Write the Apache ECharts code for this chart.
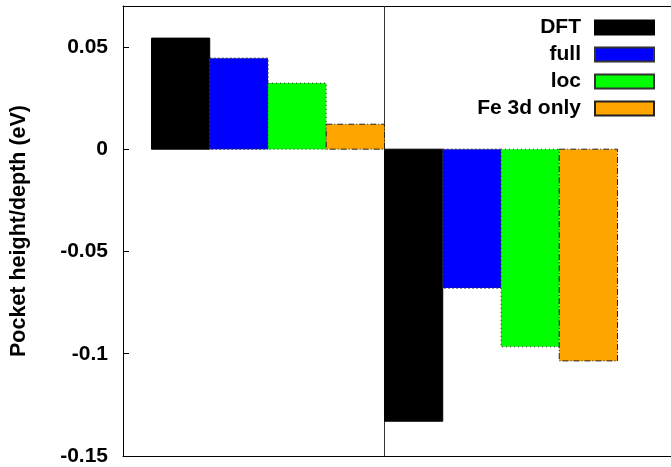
<!DOCTYPE html>
<html>
<head>
<meta charset="utf-8">
<script src="https://cdn.jsdelivr.net/npm/echarts@6/dist/echarts.min.js"></script>
<style>html,body{margin:0;padding:0;background:#fff;}#c{width:671px;height:467px;}</style>
</head>
<body>
<div id="c"></div>
<script>
const groupPositions = [0, 1];
const seriesNames = ['DFT', 'full', 'loc', 'Fe 3d only'];
const dftValues = [0.0543, -0.1330];
const fullValues = [0.0445, -0.0679];
const locValues = [0.0323, -0.0966];
const feValues = [0.0122, -0.1035];
const yTicks = [-0.15, -0.1, -0.05, 0, 0.05];
const dividerX = 0.5;

const seriesValues = [dftValues, fullValues, locValues, feValues];
const colors = ['#000000', '#0000ff', '#00ff00', '#ffa500'];
const borders = [
  {borderColor: '#000', borderType: 'solid'},
  {borderColor: '#333', borderType: [2, 2]},
  {borderColor: '#333', borderType: [1, 3]},
  {borderColor: '#222', borderType: [6, 2, 1, 2]}
];
const FONT = 'Liberation Sans, Arial, sans-serif';

const chart = echarts.init(document.getElementById('c'), null, {renderer: 'canvas'});

function makeRender(idx, count) {
  return function (params, api) {
    const x = api.value(0), y = api.value(1);
    const p0 = api.coord([x, 0]);
    const p1 = api.coord([x, y]);
    const unit = api.size([1, 0])[0];
    const w = unit / count;
    const left = p0[0] - unit / 2 + idx * w;
    return {
      type: 'rect',
      shape: {x: left, y: Math.min(p0[1], p1[1]), width: w, height: Math.abs(p1[1] - p0[1])},
      style: api.style()
    };
  };
}

const series = seriesNames.map((name, i) => ({
  name: name,
  type: 'custom',
  renderItem: makeRender(i, seriesNames.length),
  data: groupPositions.map((g, j) => [g, seriesValues[i][j]]),
  itemStyle: Object.assign({color: colors[i], borderWidth: 1}, borders[i]),
  encode: {x: 0, y: 1},
  z: 2
}));
series[0].markLine = {
  silent: true,
  symbol: 'none',
  label: {show: false},
  lineStyle: {color: '#333', type: 'solid', width: 1},
  data: [{xAxis: dividerX}],
  z: 1
};

const unitPx = 233;
const xMin = -0.6223;
const gridW = 548;
const xMax = xMin + gridW / unitPx;

const xAxisBase = {
  type: 'value', min: xMin, max: xMax,
  axisTick: {show: false}, axisLabel: {show: false}, splitLine: {show: false}
};

chart.setOption({
  animation: false,
  backgroundColor: '#fff',
  grid: {left: 123, top: 6, width: gridW, height: 450, show: false},
  xAxis: [
    Object.assign({position: 'bottom', axisLine: {show: true, onZero: false, lineStyle: {color: '#000'}}}, xAxisBase),
    Object.assign({position: 'top', axisLine: {show: true, onZero: false, lineStyle: {color: '#000'}}}, xAxisBase)
  ],
  yAxis: {
    type: 'value', min: -0.15, max: 0.07, interval: 0.05,
    name: 'Pocket height/depth (eV)', nameLocation: 'middle', nameGap: 93,
    nameTextStyle: {fontFamily: FONT, fontWeight: 'bold', fontSize: 21.5, color: '#000'},
    axisLine: {show: true, onZero: false, lineStyle: {color: '#000'}},
    axisTick: {show: true, inside: true, length: 6, lineStyle: {color: '#000'}},
    splitLine: {show: false},
    axisLabel: {
      showMaxLabel: false, margin: 15,
      fontFamily: FONT, fontWeight: 'bold', fontSize: 21, color: '#000',
      formatter: v => { const t = yTicks.find(k => Math.abs(k - v) < 1e-9); return t === undefined ? '' : String(t); }
    }
  },
  legend: {
    orient: 'vertical', align: 'right', right: 11, top: 12,
    icon: 'rect',
    itemWidth: 59, itemHeight: 14, itemGap: 6,
    textStyle: {fontFamily: FONT, fontWeight: 'bold', fontSize: 21, color: '#000', padding: [0, 9, 0, 0]},
    data: seriesNames
  },
  series: series
});
</script>
</body>
</html>
